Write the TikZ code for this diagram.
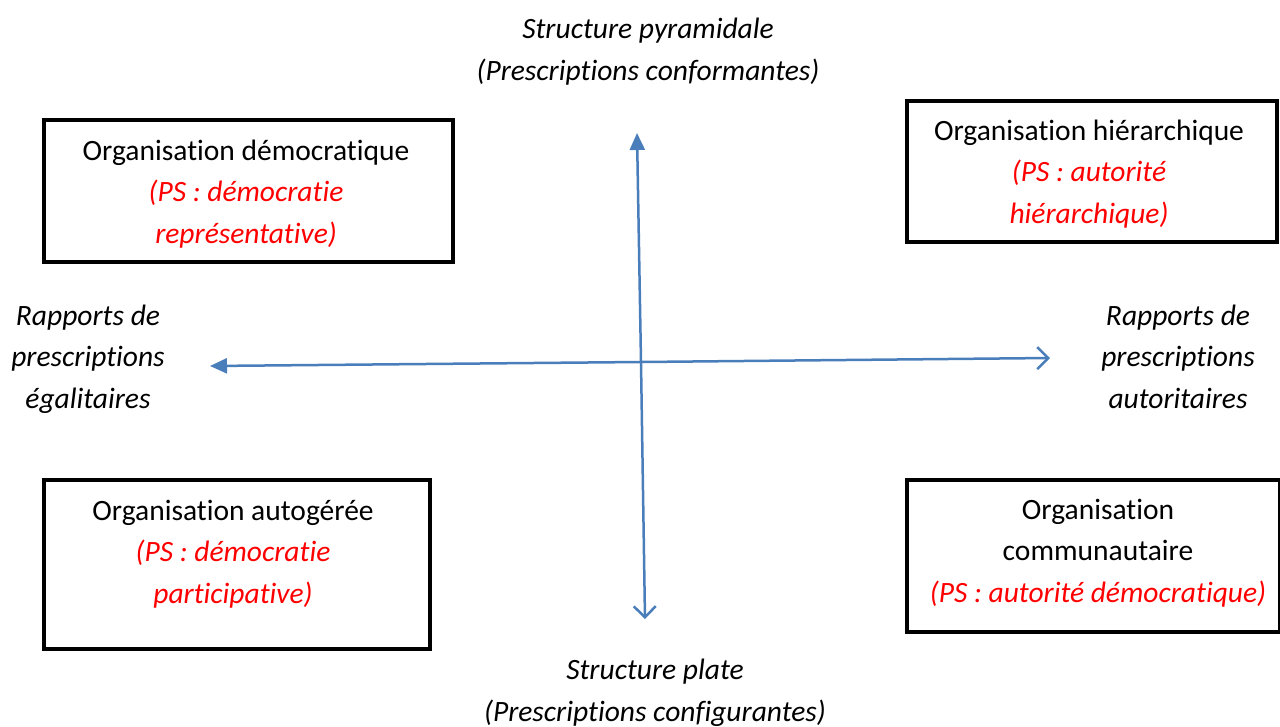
\documentclass[tikz,border=0pt]{standalone}
\usepackage{fontspec}
\setmainfont{Carlito}[Ligatures=NoCommon]
\usetikzlibrary{arrows.meta}
\definecolor{axisblue}{HTML}{4A7EBB}
\definecolor{psred}{HTML}{FF0000}
\begin{document}
\begin{tikzpicture}[x=1pt,y=-1pt,
  txt/.style={font=\fontsize{29.5}{41.5}\selectfont, align=center, inner sep=0pt},
  itxt/.style={txt, font=\fontsize{29.5}{41.5}\selectfont\itshape},
  orgbox/.style={draw=black, line width=4pt},
  axis/.style={draw=axisblue, line width=2.5pt},
  filledtip/.style={-{Triangle[length=17pt,width=15pt]}},
  opentip/.style={-{Straight Barb[length=11pt,width=22pt,line width=2.5pt]}}]
\useasboundingbox (0,0) rectangle (1280,726);
% boxes
\node[orgbox, minimum width=409pt, minimum height=142pt, anchor=north west] (tl) at (42,118) {};
\node[orgbox, minimum width=370pt, minimum height=141pt, anchor=north west] (tr) at (905,99) {};
\node[orgbox, minimum width=386pt, minimum height=169pt, anchor=north west] (bl) at (42,478) {};
\node[orgbox, minimum width=373pt, minimum height=152pt, anchor=north west] (br) at (905,478) {};
% box texts
\node[txt, anchor=base] (tlt) at (246,243) {Organisation démocratique\\\textcolor{psred}{\itshape (PS : démocratie}\\\textcolor{psred}{\itshape représentative)}};
\node[txt, anchor=base] (trt) at (1089,223) {Organisation hiérarchique\\\textcolor{psred}{\itshape (PS : autorité}\\\textcolor{psred}{\itshape hiérarchique)}};
\node[txt, anchor=base] (blt) at (233,603) {Organisation autogérée\\\textcolor{psred}{\itshape (PS : démocratie}\\\textcolor{psred}{\itshape participative)}};
\node[txt, anchor=base] (brt) at (1098,602) {Organisation\\communautaire\\\textcolor{psred}{\itshape (PS : autorité démocratique)}};
% axis labels
\node[itxt, anchor=base] (top) at (648,80) {Structure pyramidale\\(Prescriptions conformantes)};
\node[itxt, anchor=base] (bot) at (655,721) {Structure plate\\(Prescriptions configurantes)};
\node[itxt, anchor=base] (lft) at (88,408) {Rapports de\\prescriptions\\égalitaires};
\node[itxt, anchor=base] (rgt) at (1178,408) {Rapports de\\prescriptions\\autoritaires};
% axes
\coordinate (vt) at (637,133);
\coordinate (vb) at (645,619);
\coordinate (hl) at (210,366);
\coordinate (hr) at (1050,358);
\coordinate (c) at (641,362);
\draw[axis, filledtip] (c) -- (vt);
\draw[axis, opentip] (c) -- (vb);
\draw[axis, filledtip] (c) -- (hl);
\draw[axis, opentip] (c) -- (hr);
\end{tikzpicture}
\end{document}
